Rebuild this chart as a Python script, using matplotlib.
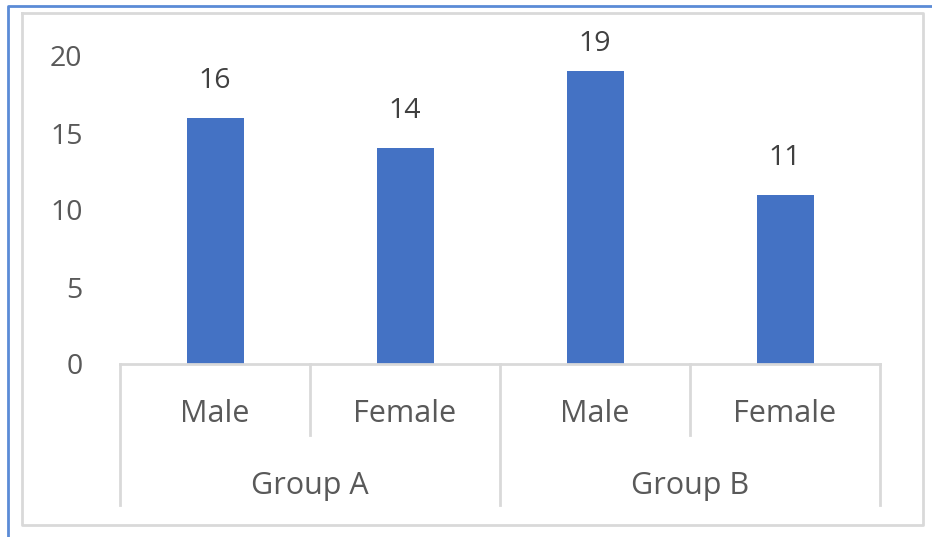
import matplotlib.pyplot as plt
from matplotlib.lines import Line2D

groups = ['Group A', 'Group B']
genders = ['Male', 'Female', 'Male', 'Female']
values = [16, 14, 19, 11]
yticks = [0, 5, 10, 15, 20]

BLUE = '#4472C4'
TEXT = '#595959'
GRID = '#D9D9D9'

plt.rcParams['font.family'] = ['Open Sans', 'DejaVu Sans']

fig = plt.figure(figsize=(9.32, 5.37), dpi=100)
ax = fig.add_axes([120 / 932, 173 / 537, 760 / 932, 308 / 537])

x = list(range(len(values)))
ax.bar(x, values, width=0.3, color=BLUE, zorder=2)

# data labels, kept inside the plot area
for xi, v in zip(x, values):
    ax.text(xi, min(v + 2.4, 20.8), str(v), ha='center', va='center',
            fontsize=20.5, color='#404040')

ax.set_xlim(-0.5, len(values) - 0.5)
ax.set_ylim(0, 20)
ax.set_yticks(yticks)
ax.set_yticklabels([str(t) for t in yticks], fontsize=20.5, color=TEXT)
ax.tick_params(axis='y', length=0, pad=27)
ax.set_xticks([])
for s in ['top', 'right', 'left']:
    ax.spines[s].set_visible(False)
ax.spines['bottom'].set_color(GRID)
ax.spines['bottom'].set_linewidth(2)

# multi-level category axis
tr = ax.get_xaxis_transform()
for i, g in enumerate(genders):
    ax.text(i, -0.162, g, transform=tr, ha='center', va='center',
            fontsize=22, color=TEXT)
for j, g in enumerate(groups):
    ax.text(2 * j + 0.5, -0.395, g, transform=tr, ha='center', va='center',
            fontsize=22, color=TEXT)
for k in range(len(values) + 1):
    edge = k - 0.5
    low = -0.458 if k % 2 == 0 else -0.2305
    ax.add_line(Line2D([edge, edge], [0, low], transform=tr, color=GRID,
                       lw=2, clip_on=False))

# chart frame
fig.add_artist(Line2D([22 / 932, 923 / 932, 923 / 932, 22 / 932, 22 / 932],
                      [1 - 13 / 537, 1 - 13 / 537, 1 - 525 / 537, 1 - 525 / 537, 1 - 13 / 537],
                      color=GRID, lw=2))
fig.add_artist(Line2D([8 / 932, 8 / 932, 1], [0, 1 - 6 / 537, 1 - 6 / 537],
                      color='#5B8BD6', lw=2))

fig.savefig('out.png', dpi=100)
